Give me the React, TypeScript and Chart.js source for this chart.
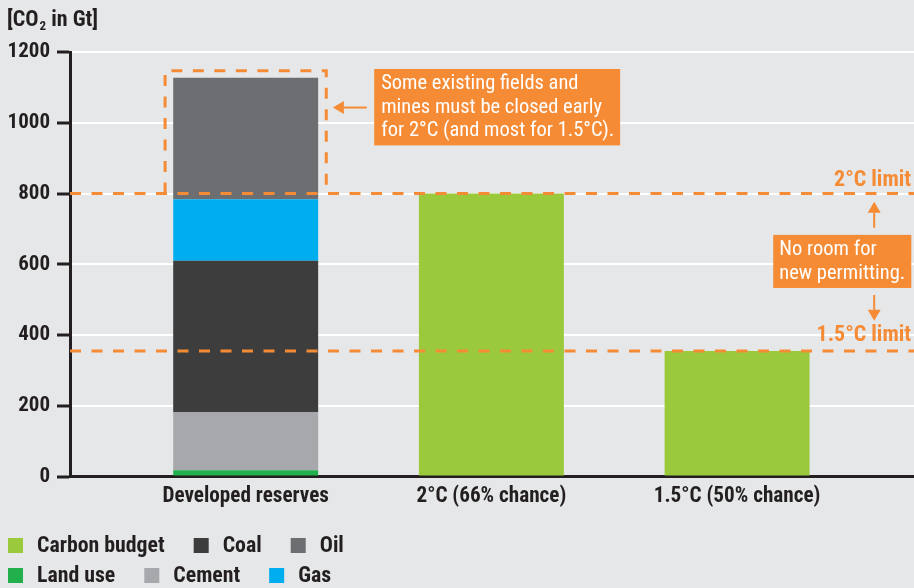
import React, { useEffect, useRef } from 'react';
import { Chart, registerables } from 'chart.js';

Chart.register(...registerables);

// ---- data ----
const categories = ['Developed reserves', '2°C (66% chance)', '1.5°C (50% chance)'];
const reserveSources = ['Land use', 'Cement', 'Coal', 'Gas', 'Oil'];
const reserveValues = [18, 164, 428, 174, 343];
const reserveColors = ['#21b04b', '#a7a8ab', '#3d3d3d', '#00aeef', '#6d6e71'];
const budgetLabel = 'Carbon budget';
const budgetCategories = [1, 2];
const budgetValues = [800, 355];
const budgetColor = '#9aca3c';
const limitLabels = ['2°C limit', '1.5°C limit'];
const limitValues = [800, 355];
const yTickValues = [0, 200, 400, 600, 800, 1000, 1200];
const legendRows = [
  ['Carbon budget', 'Coal', 'Oil'],
  ['Land use', 'Cement', 'Gas'],
];
const closeBoxTop = 1147;
const callout1 = ['Some existing fields and', 'mines must be closed early', 'for 2°C (and most for 1.5°C).'];
const callout2 = ['No room for', 'new permitting.'];
const yAxisTitle = ['[CO', '2', ' in Gt]'];

// ---- style ----
const BG = '#e6e7e9';
const INK = '#231f20';
const ORANGE = '#f58b35';
const BOLD = "'Roboto Condensed', 'Liberation Sans', sans-serif";
const REG = "'Roboto Condensed', 'Liberation Sans', sans-serif";

function drawArrow(ctx: CanvasRenderingContext2D, x1: number, y1: number, x2: number, y2: number) {
  const ang = Math.atan2(y2 - y1, x2 - x1);
  const head = 11;
  const half = 6.5;
  const bx = x2 - Math.cos(ang) * head;
  const by = y2 - Math.sin(ang) * head;
  ctx.save();
  ctx.strokeStyle = ORANGE;
  ctx.fillStyle = ORANGE;
  ctx.lineWidth = 2;
  ctx.beginPath();
  ctx.moveTo(x1, y1);
  ctx.lineTo(bx, by);
  ctx.stroke();
  ctx.beginPath();
  ctx.moveTo(x2, y2);
  ctx.lineTo(bx + Math.sin(ang) * half, by - Math.cos(ang) * half);
  ctx.lineTo(bx - Math.sin(ang) * half, by + Math.cos(ang) * half);
  ctx.closePath();
  ctx.fill();
  ctx.restore();
}

const decorPlugin = {
  id: 'decor',
  beforeDraw(chart: any) {
    const { ctx, width, height } = chart;
    ctx.save();
    ctx.fillStyle = BG;
    ctx.fillRect(0, 0, width, height);
    // axis title with subscript
    ctx.fillStyle = INK;
    ctx.textBaseline = 'alphabetic';
    ctx.textAlign = 'left';
    let x = 7;
    const base = 25.5;
    ctx.font = `bold 22px ${BOLD}`;
    ctx.fillText(yAxisTitle[0], x, base);
    x += ctx.measureText(yAxisTitle[0]).width + 1;
    ctx.font = `bold 13px ${BOLD}`;
    ctx.fillText(yAxisTitle[1], x, base + 4);
    x += ctx.measureText(yAxisTitle[1]).width;
    ctx.font = `bold 22px ${BOLD}`;
    ctx.fillText(yAxisTitle[2], x, base);

    // legend
    const colorOf: Record<string, string> = { [budgetLabel]: budgetColor };
    reserveSources.forEach((s, i) => (colorOf[s] = reserveColors[i]));
    ctx.font = `bold 21.8px ${BOLD}`;
    ctx.textBaseline = 'middle';
    const rowY = [545.5, 575.5];
    legendRows.forEach((row, r) => {
      let lx = 8;
      row.forEach((label) => {
        ctx.fillStyle = colorOf[label];
        ctx.fillRect(lx, rowY[r] - 7.5, 15, 15);
        lx += 29;
        ctx.fillStyle = INK;
        ctx.fillText(label, lx, rowY[r] + 1);
        lx += ctx.measureText(label).width + 29;
      });
    });
    ctx.restore();
  },
  afterDatasetsDraw(chart: any) {
    const { ctx, chartArea } = chart;
    const xs = chart.scales.x;
    const ys = chart.scales.y;
    ctx.save();
    ctx.strokeStyle = ORANGE;
    ctx.lineWidth = 3;
    ctx.setLineDash([11, 10.5]);
    // limit lines
    limitValues.forEach((v) => {
      const py = ys.getPixelForValue(v);
      ctx.beginPath();
      ctx.moveTo(chartArea.left, py);
      ctx.lineTo(chartArea.right, py);
      ctx.stroke();
    });
    // dashed box around reserves above 2°C limit
    const bl = xs.getPixelForValue(-0.328);
    const br = xs.getPixelForValue(0.328);
    const bt = ys.getPixelForValue(closeBoxTop);
    const bb = ys.getPixelForValue(limitValues[0]);
    ctx.beginPath();
    ctx.moveTo(bl, bb);
    ctx.lineTo(bl, bt);
    ctx.lineTo(br, bt);
    ctx.lineTo(br, bb);
    ctx.stroke();
    ctx.setLineDash([]);

    // limit labels
    ctx.fillStyle = ORANGE;
    ctx.font = `bold 22px ${BOLD}`;
    ctx.textAlign = 'right';
    ctx.textBaseline = 'middle';
    limitLabels.forEach((t, i) => {
      const py = ys.getPixelForValue(limitValues[i]);
      ctx.fillText(t, chartArea.right - 3, py - (i === 0 ? 13 : 15));
    });

    // callout 1
    const c1l = xs.getPixelForValue(0.523);
    const c1r = xs.getPixelForValue(1.524);
    const c1t = ys.getPixelForValue(1152);
    const c1b = ys.getPixelForValue(936);
    ctx.fillStyle = ORANGE;
    ctx.fillRect(c1l, c1t, c1r - c1l, c1b - c1t);
    ctx.fillStyle = '#ffffff';
    ctx.textAlign = 'left';
    ctx.font = `20.5px ${REG}`;
    callout1.forEach((t, i) => ctx.fillText(t, c1l + 7, c1t + 15 + i * 23.5));
    drawArrow(ctx, xs.getPixelForValue(0.493), ys.getPixelForValue(1043), xs.getPixelForValue(0.355), ys.getPixelForValue(1043));

    // callout 2
    const c2l = xs.getPixelForValue(2.147);
    const c2r = xs.getPixelForValue(2.709);
    const c2t = ys.getPixelForValue(683);
    const c2b = ys.getPixelForValue(533);
    ctx.fillStyle = ORANGE;
    ctx.fillRect(c2l, c2t, c2r - c2l, c2b - c2t);
    ctx.fillStyle = '#ffffff';
    callout2.forEach((t, i) => ctx.fillText(t, c2l + 6, c2t + 15 + i * 24));
    const ax = xs.getPixelForValue(2.558);
    drawArrow(ctx, ax, ys.getPixelForValue(703), ax, ys.getPixelForValue(777));
    drawArrow(ctx, ax, ys.getPixelForValue(513), ax, ys.getPixelForValue(440));
    ctx.restore();
  },
};

export default function App() {
  const ref = useRef<HTMLCanvasElement>(null);
  useEffect(() => {
    document.body.style.margin = '0';
    document.body.style.background = BG;
    const datasets: any[] = reserveSources.map((s, i) => ({
      label: s,
      data: [{ x: 0, y: reserveValues[i] }],
      backgroundColor: reserveColors[i],
    }));
    datasets.push({
      label: budgetLabel,
      data: budgetCategories.map((c, i) => ({ x: c, y: budgetValues[i] })),
      backgroundColor: budgetColor,
    });
    const chart = new Chart(ref.current as HTMLCanvasElement, {
      type: 'bar',
      data: { datasets },
      options: {
        animation: false,
        responsive: false,
        devicePixelRatio: 1,
        categoryPercentage: 1,
        barPercentage: 0.59,
        layout: { padding: { top: 52, left: 0, right: 0, bottom: 0 } },
        plugins: { legend: { display: false }, tooltip: { enabled: false }, title: { display: false } },
        scales: {
          x: {
            type: 'linear',
            min: -0.715,
            max: 2.72,
            offset: false,
            stacked: true,
            z: 1,
            grid: { display: true, drawOnChartArea: false, drawTicks: false },
            border: { display: true, color: INK, width: 3 },
            afterBuildTicks: (s: any) => {
              s.ticks = categories.map((_, i) => ({ value: i }));
            },
            afterFit: (s: any) => {
              s.height = 111.5;
            },
            ticks: {
              autoSkip: false,
              maxRotation: 0,
              padding: 7,
              color: INK,
              font: { family: BOLD, size: 21.2, weight: 'bold' },
              callback: (v: any) => categories[v] ?? '',
            },
          },
          y: {
            stacked: true,
            min: 0,
            max: 1200,
            afterBuildTicks: (s: any) => {
              s.ticks = yTickValues.map((v) => ({ value: v }));
            },
            afterFit: (s: any) => {
              s.width = 70;
            },
            grid: { color: '#ffffff', lineWidth: 2, tickColor: INK, tickLength: 13, tickWidth: 3 },
            border: { display: true, color: INK, width: 3 },
            ticks: {
              padding: 7,
              color: INK,
              font: { family: BOLD, size: 21, weight: 'bold' },
              callback: (v: any) => String(v),
            },
          },
        },
      } as any,
      plugins: [decorPlugin],
    });
    return () => chart.destroy();
  }, []);
  return (
    <div style={{ width: 914, height: 588 }}>
      <canvas ref={ref} width={914} height={588} style={{ display: 'block', width: 914, height: 588 }} />
    </div>
  );
}
